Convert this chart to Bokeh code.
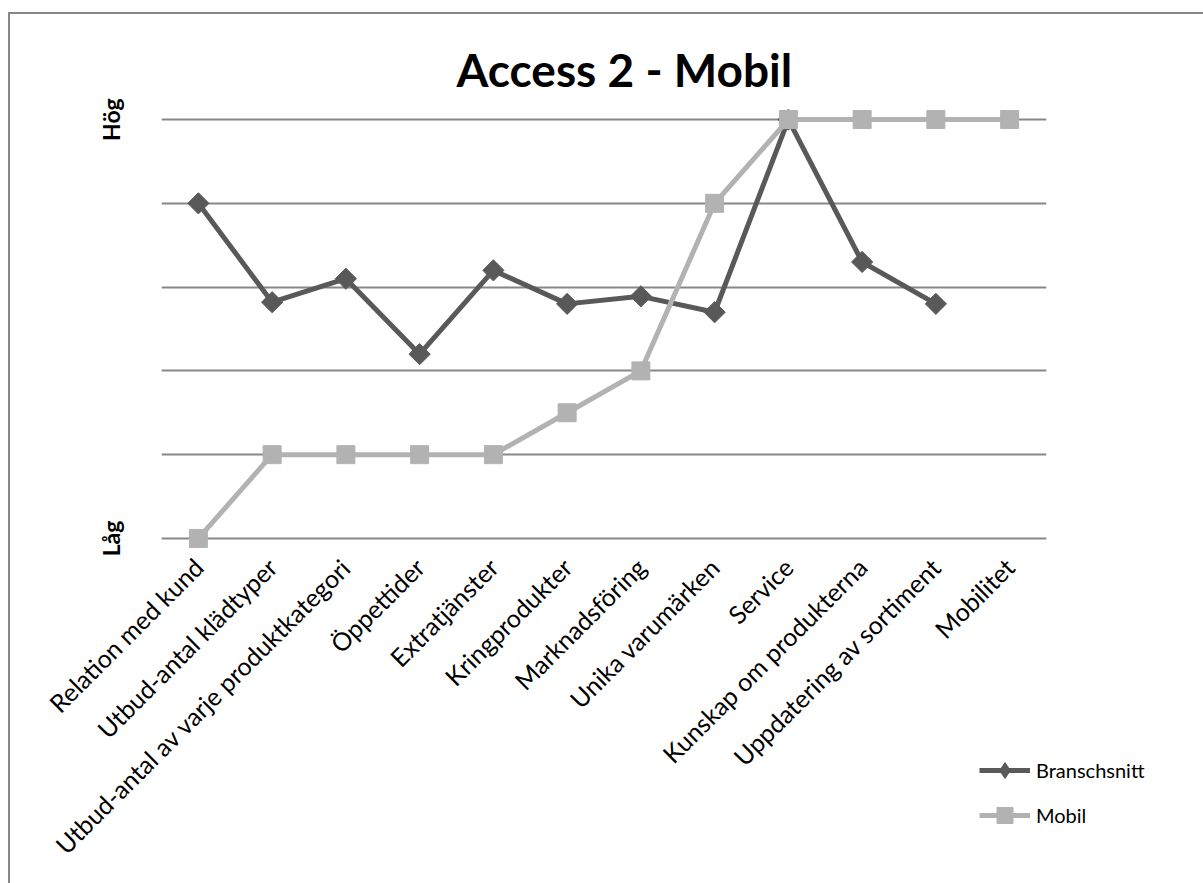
import numpy as np
from bokeh.plotting import figure
from bokeh.models import FactorRange, Range1d, FixedTicker, Legend, LegendItem
from bokeh.embed import file_html
from bokeh.resources import INLINE

categories = ["Relation med kund", "Utbud-antal klädtyper", "Utbud-antal av varje produktkategori",
              "Öppettider", "Extratjänster", "Kringprodukter", "Marknadsföring",
              "Unika varumärken", "Service", "Kunskap om produkterna",
              "Uppdatering av sortiment", "Mobilitet"]
branschsnitt = [4.0, 2.82, 3.1, 2.2, 3.2, 2.8, 2.89, 2.7, 5.0, 3.3, 2.8, None]
mobil = [0, 1, 1, 1, 1, 1.5, 2, 4, 5, 5, 5, 5]
y_ticks = [0, 5]
y_tick_labels = {0: "Låg", 5: "Hög"}
grid_levels = [0, 1, 2, 3, 4, 5]

FONT = "Lato"
DARK = "#595959"
LIGHT = "#b2b2b2"

p = figure(frame_width=885, frame_height=439, x_range=FactorRange(*categories),
           y_range=Range1d(-0.12, 5.12), output_backend="svg", toolbar_location=None,
           title="Access 2 - Mobil",
           min_border_left=151, min_border_right=157, min_border_top=95, min_border_bottom=335)
p.margin = (12, 0, 0, 8)
p.styles = {"border-left": "2px solid #878787", "border-top": "2px solid #878787"}
p.outline_line_color = None
p.background_fill_color = "white"
p.border_fill_color = "white"

p.title.text_font = FONT
p.title.text_font_size = "46px"
p.title.text_font_style = "bold"
p.title.text_color = "black"
p.title.align = "left"
p.title.offset = 295
p.title.standoff = 26

# x axis
xa = p.xaxis[0]
xa.axis_line_color = None
xa.major_tick_line_color = None
xa.minor_tick_line_color = None
xa.major_label_orientation = np.pi / 4
xa.major_label_text_font = FONT
xa.major_label_text_font_size = "25px"
xa.major_label_text_color = "black"
xa.major_label_standoff = 8
p.xgrid.grid_line_color = None

# y axis
ya = p.yaxis[0]
ya.ticker = FixedTicker(ticks=y_ticks)
ya.major_label_overrides = y_tick_labels
ya.axis_line_color = None
ya.major_tick_line_color = None
ya.minor_tick_line_color = None
ya.major_label_orientation = "vertical"
ya.major_label_text_font = FONT
ya.major_label_text_font_size = "23px"
ya.major_label_text_font_style = "bold"
ya.major_label_text_color = "black"
ya.major_label_standoff = 30
p.ygrid.ticker = FixedTicker(ticks=grid_levels)
p.ygrid.grid_line_color = "#878787"
p.ygrid.grid_line_width = 2

bx = [c for c, v in zip(categories, branschsnitt) if v is not None]
by = [v for v in branschsnitt if v is not None]

bl = p.line(bx, by, line_color=DARK, line_width=5)
bm = p.scatter(bx, by, marker="square", angle=np.pi / 4, size=15,
               fill_color=DARK, line_color=DARK)
# same points as a plain diamond (hidden inside the rotated squares) so the
# legend icon shows a diamond (legend icons ignore marker angle)
bm_leg = p.scatter(bx, by, marker="diamond", size=15,
                   fill_color=DARK, line_color=DARK)
ml = p.line(categories, mobil, line_color=LIGHT, line_width=5)
mm = p.scatter(categories, mobil, marker="square", size=18,
               fill_color=LIGHT, line_color=LIGHT)

legend = Legend(items=[LegendItem(label="Branschsnitt", renderers=[bl, bm_leg]),
                       LegendItem(label="Mobil", renderers=[ml, mm])],
                location=(-67, -287))
legend.border_line_color = None
legend.background_fill_alpha = 0
legend.padding = 0
legend.margin = 0
legend.label_text_font = FONT
legend.label_text_font_size = "20px"
legend.label_text_color = "black"
legend.glyph_width = 51
legend.glyph_height = 40
legend.label_height = 20
legend.spacing = 5
legend.label_standoff = 6
p.add_layout(legend, "right")

open("out.html", "w").write(file_html(p, INLINE))
